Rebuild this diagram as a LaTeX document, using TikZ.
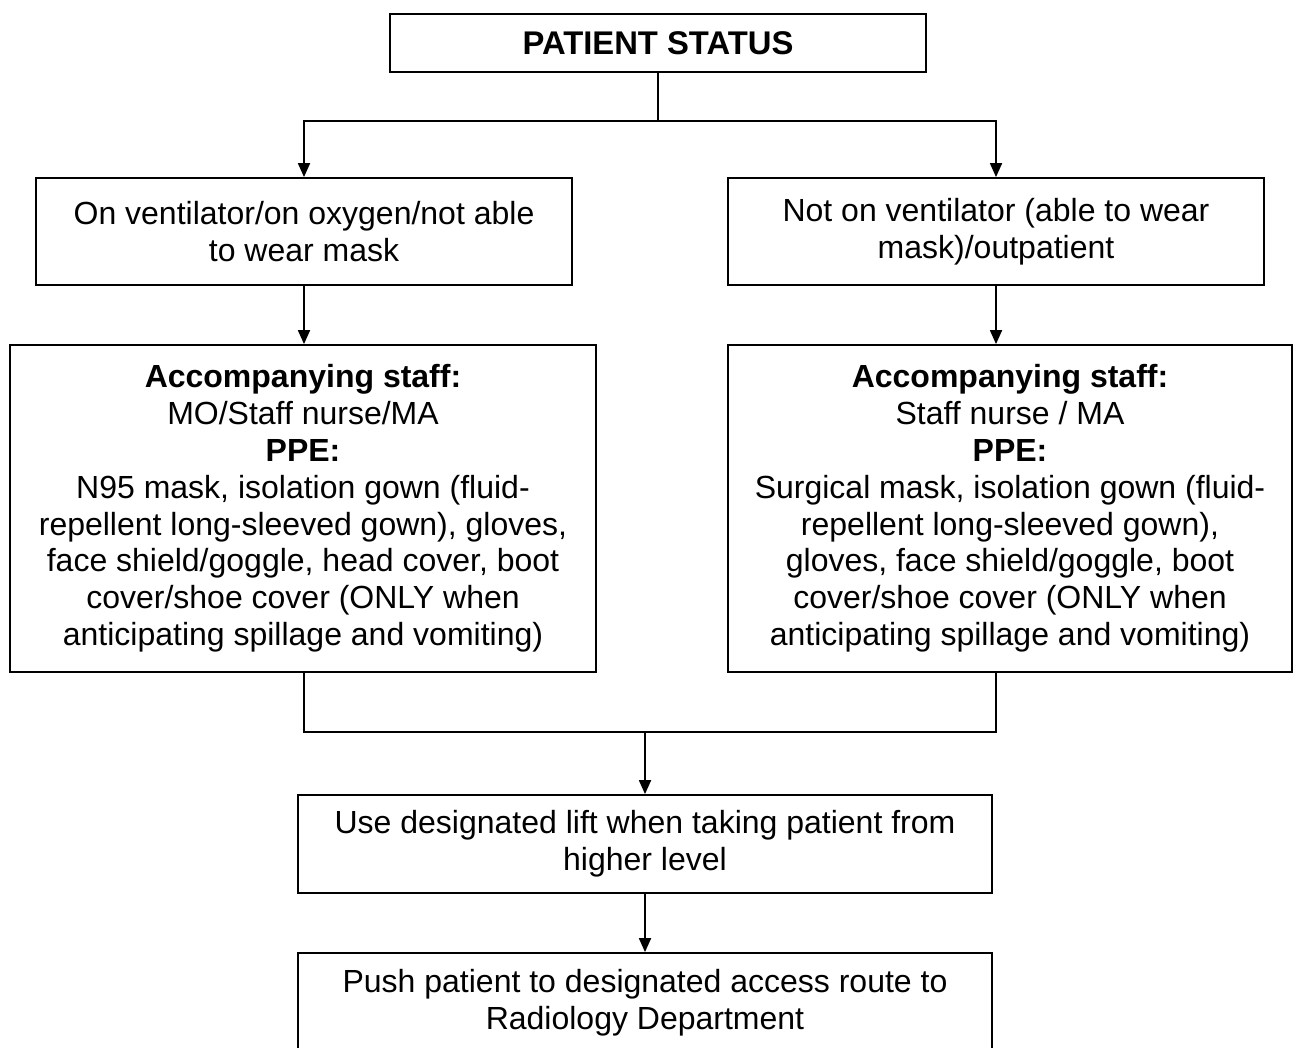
\documentclass[tikz,border=0pt]{standalone}
\usepackage{fontspec}
\setmainfont{Liberation Sans}
\usetikzlibrary{arrows.meta}

\begin{document}
\begin{tikzpicture}[x=0.5pt, y=-0.5pt,
        flowbox/.style={draw, line width=0.9pt, align=center, inner sep=0pt,
            font=\fontsize{16pt}{18.4pt}\selectfont},
        flowline/.style={line width=0.9pt},
        flowarrow/.style={flowline, -{Triangle[length=7pt, width=6pt]}}]
        \useasboundingbox (0,0) rectangle (1294,1048);
        % status
        \node [flowbox, minimum width=268pt, minimum height=29pt, font=\fontsize{16.4pt}{18.8pt}\selectfont\bfseries] (status) at (658,43) {PATIENT STATUS};
        % first choice
        \node [flowbox, minimum width=268pt, minimum height=53.5pt] (vent) at (304,231.5) {On ventilator/on oxygen/not able\\to wear mask};
        \node [flowbox, minimum width=268pt, minimum height=53.5pt] (novent) at (996,231.5) {Not on ventilator (able to wear\\mask)/outpatient};
        % staff and ppe
        \node [flowbox, minimum width=293pt, minimum height=163.5pt] (staffL) at (303,508.5) {\textbf{Accompanying staff:}\\MO/Staff nurse/MA\\\textbf{PPE:}\\N95 mask, isolation gown (fluid-\\repellent long-sleeved gown), gloves,\\face shield/goggle, head cover, boot\\cover/shoe cover (ONLY when\\anticipating spillage and vomiting)};
        \node [flowbox, minimum width=282pt, minimum height=163.5pt] (staffR) at (1010,508.5) {\textbf{Accompanying staff:}\\Staff nurse / MA\\\textbf{PPE:}\\Surgical mask, isolation gown (fluid-\\repellent long-sleeved gown),\\gloves, face shield/goggle, boot\\cover/shoe cover (ONLY when\\anticipating spillage and vomiting)};
        % transfer
        \node [flowbox, minimum width=347pt, minimum height=49pt] (lift) at (645,844) {Use designated lift when taking patient from\\higher level};
        \node [flowbox, minimum width=347pt, minimum height=50pt] (push) at (645,1003) {Push patient to designated access route to\\Radiology Department};
        % connectors
        \draw [flowline] (status.south) -- ++(0,48) coordinate (split);
        \draw [flowarrow] (split) -| (vent.north);
        \draw [flowarrow] (split) -| (novent.north);
        \draw [flowarrow] (vent.south) -- (vent.south |- staffL.north);
        \draw [flowarrow] (novent.south) -- (novent.south |- staffR.north);
        \coordinate (merge) at (645,732);
        \draw [flowline] (vent.south |- staffL.south) |- (merge) -| (novent.south |- staffR.south);
        \draw [flowarrow] (merge) -- (lift.north);
        \draw [flowarrow] (lift.south) -- (push.north);
    \end{tikzpicture}
\end{document}
